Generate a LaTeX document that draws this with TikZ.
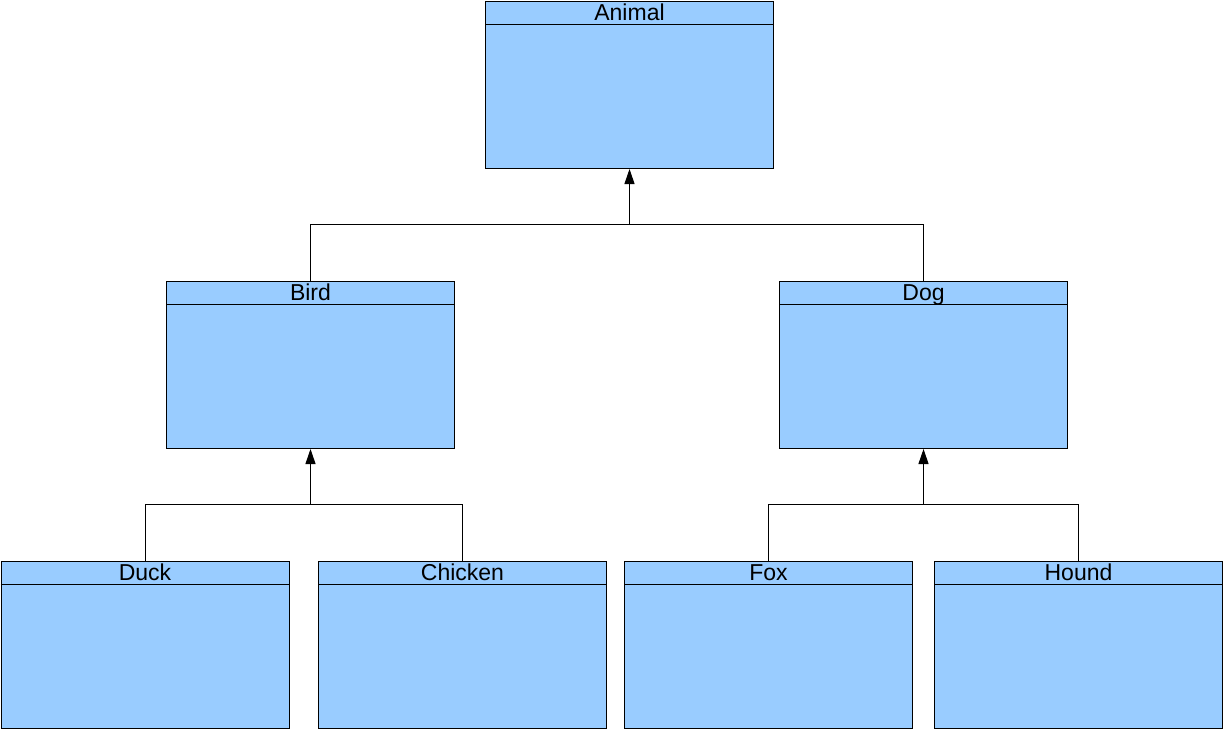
\documentclass[tikz,border=0pt]{standalone}
\usepackage{fontspec}
\setmainfont{Liberation Sans}
\usetikzlibrary{arrows.meta}
\definecolor{boxblue}{HTML}{99CCFF}
\tikzset{
  cls/.style={draw=black, fill=boxblue, line width=1pt, minimum width=288pt, minimum height=167pt, anchor=north west, inner sep=0pt},
  ttl/.style={anchor=base, inner sep=0pt, font=\fontsize{23}{25}\selectfont},
  link/.style={draw=black, line width=1pt},
  inherit/.style={link, -{Triangle[width=10pt,length=15pt]}}
}
\newcommand{\classbox}[4]{%
  \node[cls] (#1) at (#2,#3) {};
  \draw[line width=1pt] ([yshift=-23pt]#1.north west) -- ([yshift=-23pt]#1.north east);
  \node[ttl] (#1t) at ([yshift=-19.5pt]#1.north) {#4};
}
\begin{document}
\begin{tikzpicture}[x=1pt,y=-1pt]
\useasboundingbox (0,0) rectangle (1223,729);
\classbox{animal}{485}{1}{Animal}
\classbox{bird}{166}{281}{Bird}
\classbox{dog}{779}{281}{Dog}
\classbox{duck}{0.5}{561}{Duck}
\classbox{chicken}{318}{561}{Chicken}
\classbox{fox}{624}{561}{Fox}
\classbox{hound}{934}{561}{Hound}
\coordinate (j1) at (animal.south |- 0,224);
\coordinate (j2) at (bird.south |- 0,504);
\coordinate (j3) at (dog.south |- 0,504);
\draw[link] (bird.north) |- (j1);
\draw[link] (dog.north) |- (j1);
\draw[inherit] (j1) -- (animal.south);
\draw[link] (duck.north) |- (j2);
\draw[link] (chicken.north) |- (j2);
\draw[inherit] (j2) -- (bird.south);
\draw[link] (fox.north) |- (j3);
\draw[link] (hound.north) |- (j3);
\draw[inherit] (j3) -- (dog.south);
\end{tikzpicture}
\end{document}
